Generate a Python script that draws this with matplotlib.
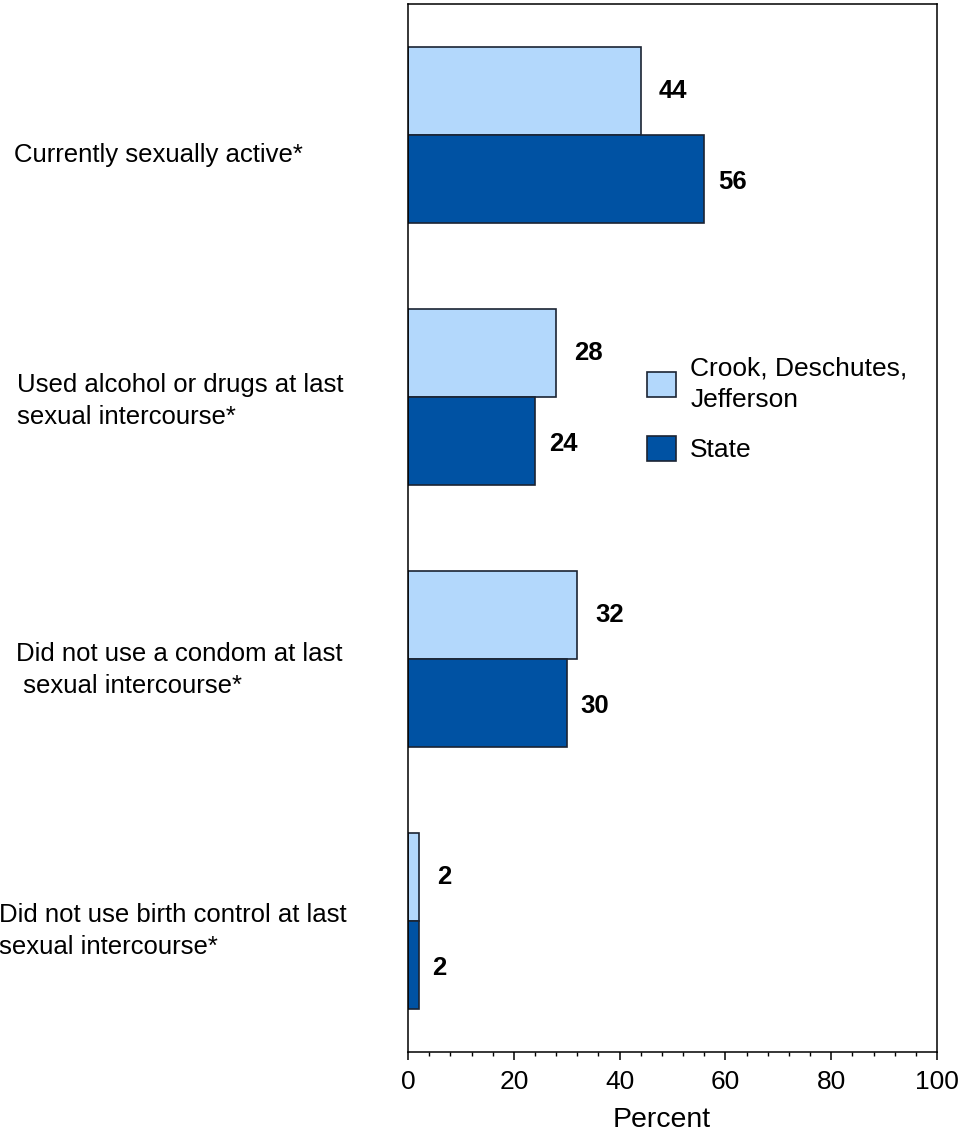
import numpy as np
import matplotlib
matplotlib.use('Agg')
import matplotlib.pyplot as plt
from matplotlib.ticker import MultipleLocator

plt.rcParams['font.family'] = ['Liberation Sans', 'DejaVu Sans']

# data
categories = ['Currently sexually active*',
              'Used alcohol or drugs at last\nsexual intercourse*',
              'Did not use a condom at last\n sexual intercourse*',
              'Did not use birth control at last\nsexual intercourse*']
county = [44, 28, 32, 2]
state = [56, 24, 30, 2]
series_names = ['Crook, Deschutes,\nJefferson', 'State']

light = '#b3d8fc'
dark = '#0052a3'
edge = '#1b2433'

fig = plt.figure(figsize=(9.66, 11.35), dpi=100)
ax = fig.add_axes([0.4224, 0.0731, 0.5476, 0.9233])

y = np.arange(len(categories))
h = 0.336
ax.barh(y - h / 2, county, height=h, color=light, edgecolor=edge, linewidth=1.2,
        label=series_names[0])
ax.barh(y + h / 2, state, height=h, color=dark, edgecolor=edge, linewidth=1.2,
        label=series_names[1])

# value labels
for i in range(len(categories)):
    ax.annotate(str(county[i]), (county[i], y[i] - h / 2), xytext=(13, 0),
                textcoords='offset points', va='center', ha='left',
                fontsize=18.5, fontweight='bold')
    ax.annotate(str(state[i]), (state[i], y[i] + h / 2 + 0.01), xytext=(10, 0),
                textcoords='offset points', va='center', ha='left',
                fontsize=18.5, fontweight='bold')

# category labels (right edge in axes coords, vertical nudge in data units)
label_right = [-0.1985, -0.1229, -0.1248, -0.1155]
label_dy = [0.075, 0.015, 0.042, 0.038]
for i, lab in enumerate(categories):
    ax.text(label_right[i], y[i] + label_dy[i], lab,
            transform=ax.get_yaxis_transform(),
            ha='right', va='center', multialignment='left', fontsize=18.5,
            linespacing=1.4)

ax.set_xlim(0, 100)
ax.set_ylim(3.5, -0.5)
ax.set_yticks([])
ax.xaxis.set_major_locator(MultipleLocator(20))
ax.xaxis.set_minor_locator(MultipleLocator(4))
ax.tick_params(axis='x', which='major', direction='out', length=6, width=1.1,
               labelsize=19, pad=7)
ax.tick_params(axis='x', which='minor', direction='out', length=3.2, width=1.0)
ax.set_xlabel('Percent', fontsize=20.5, labelpad=9, x=0.48)
for s in ax.spines.values():
    s.set_linewidth(1.1)

leg = ax.legend(loc='upper left', bbox_to_anchor=(0.452, 0.664), frameon=False,
                fontsize=19, handlelength=1.1, handleheight=1.1,
                handletextpad=0.53, labelspacing=0.9, borderpad=0,
                borderaxespad=0)
for t in leg.get_texts():
    t.set_linespacing(1.4)

fig.savefig('out.png', dpi=100)
